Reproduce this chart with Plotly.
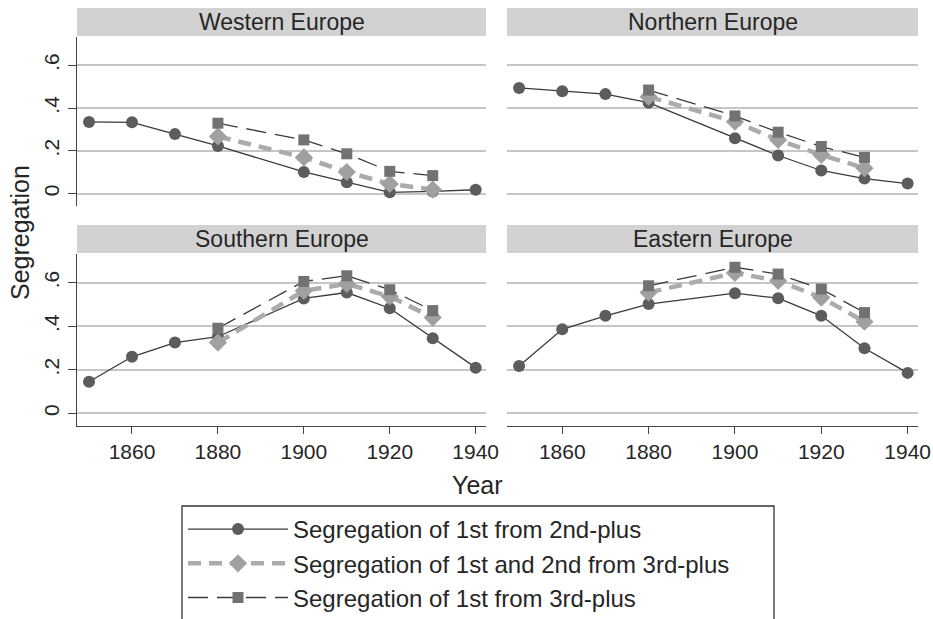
import plotly.graph_objects as go

# Census years and regional segregation indices
years_full = [1850, 1860, 1870, 1880, 1900, 1910, 1920, 1930, 1940]
years_short = [1880, 1900, 1910, 1920, 1930]

regions = ["Western Europe", "Northern Europe", "Southern Europe", "Eastern Europe"]

# Segregation of 1st from 2nd-plus (all years)
first_vs_second = {
    "Western Europe":  [0.335, 0.333, 0.278, 0.223, 0.101, 0.053, 0.006, 0.010, 0.018],
    "Northern Europe": [0.494, 0.478, 0.465, 0.425, 0.259, 0.178, 0.108, 0.070, 0.047],
    "Southern Europe": [0.145, 0.260, 0.325, 0.352, 0.528, 0.555, 0.483, 0.345, 0.210],
    "Eastern Europe":  [0.218, 0.386, 0.448, 0.502, 0.552, 0.529, 0.448, 0.299, 0.186],
}
# Segregation of 1st and 2nd from 3rd-plus (1880-1930)
first_second_vs_third = {
    "Western Europe":  [0.267, 0.169, 0.101, 0.045, 0.019],
    "Northern Europe": [0.453, 0.336, 0.251, 0.181, 0.119],
    "Southern Europe": [0.325, 0.563, 0.595, 0.537, 0.440],
    "Eastern Europe":  [0.555, 0.645, 0.609, 0.532, 0.421],
}
# Segregation of 1st from 3rd-plus (1880-1930)
first_vs_third = {
    "Western Europe":  [0.329, 0.251, 0.186, 0.104, 0.084],
    "Northern Europe": [0.484, 0.363, 0.287, 0.220, 0.169],
    "Southern Europe": [0.391, 0.606, 0.632, 0.568, 0.472],
    "Eastern Europe":  [0.586, 0.671, 0.640, 0.571, 0.463],
}

series_names = [
    "Segregation of 1st from 2nd-plus",
    "Segregation of 1st and 2nd from 3rd-plus",
    "Segregation of 1st from 3rd-plus",
]
y_ticks = [0, 0.2, 0.4, 0.6]
y_tick_text = ["0", ".2", ".4", ".6"]
x_ticks = [1860, 1880, 1900, 1920, 1940]

W, H = 933, 619
FONT = "Liberation Sans, Arial, Helvetica, sans-serif"
TXT = "#262626"

# panel geometry in pixels: (left, right, top, bottom)
panels = {
    "Western Europe":  (77, 486, 37, 206),
    "Northern Europe": (507, 918, 37, 206),
    "Southern Europe": (77, 486, 254, 426),
    "Eastern Europe":  (507, 918, 254, 426),
}
strip_h = 28

fig = go.Figure()

for i, reg in enumerate(regions):
    ax = "" if i == 0 else str(i + 1)
    xa, ya = "x" + ax, "y" + ax
    first = i == 0
    fig.add_trace(go.Scatter(
        x=years_full, y=first_vs_second[reg], xaxis=xa, yaxis=ya,
        name=series_names[0], legendgroup="s1", showlegend=first,
        mode="lines+markers",
        line=dict(color="#3a3a3a", width=1.3),
        marker=dict(symbol="circle", size=12, color="#5c5c5c"),
    ))
    fig.add_trace(go.Scatter(
        x=years_short, y=first_second_vs_third[reg], xaxis=xa, yaxis=ya,
        name=series_names[1], legendgroup="s2", showlegend=first,
        mode="lines+markers",
        line=dict(color="#ababab", width=4.5, dash="13px,8px"),
        marker=dict(symbol="diamond", size=14, color="#a0a0a0"),
    ))
    fig.add_trace(go.Scatter(
        x=years_short, y=first_vs_third[reg], xaxis=xa, yaxis=ya,
        name=series_names[2], legendgroup="s3", showlegend=first,
        mode="lines+markers",
        line=dict(color="#3a3a3a", width=1.3, dash="20px,9px"),
        marker=dict(symbol="square", size=11, color="#727272"),
    ))

layout = dict(
    width=W, height=H,
    margin=dict(l=0, r=0, t=0, b=0, autoexpand=False),
    paper_bgcolor="white", plot_bgcolor="white",
    font=dict(family=FONT, color=TXT, size=21),
    shapes=[], annotations=[],
)

for i, reg in enumerate(regions):
    l, r, t, b = panels[reg]
    key = "" if i == 0 else str(i + 1)
    left_col = i in (0, 2)
    bottom_row = i in (2, 3)
    layout["xaxis" + key] = dict(
        domain=[l / W, r / W], range=[1847.2, 1942.4],
        anchor="y" + key, showgrid=False, zeroline=False,
        showline=bottom_row, linecolor="#444", linewidth=1.3,
        ticks="outside" if bottom_row else "", ticklen=7, tickcolor="#444", tickwidth=1.3,
        tickvals=x_ticks, showticklabels=bottom_row,
        tickfont=dict(size=21, color=TXT), automargin=False,
    )
    layout["yaxis" + key] = dict(
        domain=[1 - b / H, 1 - t / H], range=[-0.058, 0.732],
        anchor="x" + key, showgrid=True, gridcolor="#c6c6c6", gridwidth=1.6,
        zeroline=False,
        showline=left_col, linecolor="#444", linewidth=1.3,
        ticks="outside" if left_col else "", ticklen=8, tickcolor="#444", tickwidth=1.3,
        tickvals=y_ticks, ticktext=y_tick_text, showticklabels=left_col,
        tickangle=-90, tickfont=dict(size=21, color=TXT), automargin=False,
    )
    # header strip with the region name
    layout["shapes"].append(dict(
        type="rect", xref="paper", yref="paper", layer="below",
        x0=l / W, x1=r / W, y0=1 - (t - 1) / H, y1=1 - (t - 1 - strip_h) / H,
        fillcolor="#d2d2d2", line=dict(width=0),
    ))
    layout["annotations"].append(dict(
        text=reg, xref="paper", yref="paper",
        x=(l + r) / 2 / W, y=1 - (t - 1 - strip_h / 2) / H,
        showarrow=False, xanchor="center", yanchor="middle",
        font=dict(size=23, color=TXT),
    ))

layout["annotations"].append(dict(
    text="Segregation", xref="paper", yref="paper", x=20 / W, y=1 - 233 / H,
    textangle=-90, showarrow=False, xanchor="center", yanchor="middle",
    font=dict(size=25, color=TXT),
))
layout["annotations"].append(dict(
    text="Year", xref="paper", yref="paper", x=478 / W, y=1 - 485 / H,
    showarrow=False, xanchor="center", yanchor="middle",
    font=dict(size=25, color=TXT),
))

# frame around the legend, running off the bottom edge of the page
layout["shapes"].append(dict(
    type="rect", xref="paper", yref="paper",
    x0=182 / W, x1=774 / W, y0=-0.05, y1=1 - 506 / H,
    fillcolor="rgba(0,0,0,0)", line=dict(color="#333", width=1.3),
))

layout["legend"] = dict(
    x=183 / W, y=1 - 507 / H, xanchor="left", yanchor="top",
    borderwidth=0, bgcolor="rgba(0,0,0,0)",
    font=dict(size=24, color=TXT), itemwidth=100, tracegroupgap=0,
)

fig.update_layout(**layout)
fig.write_html("out.html")
